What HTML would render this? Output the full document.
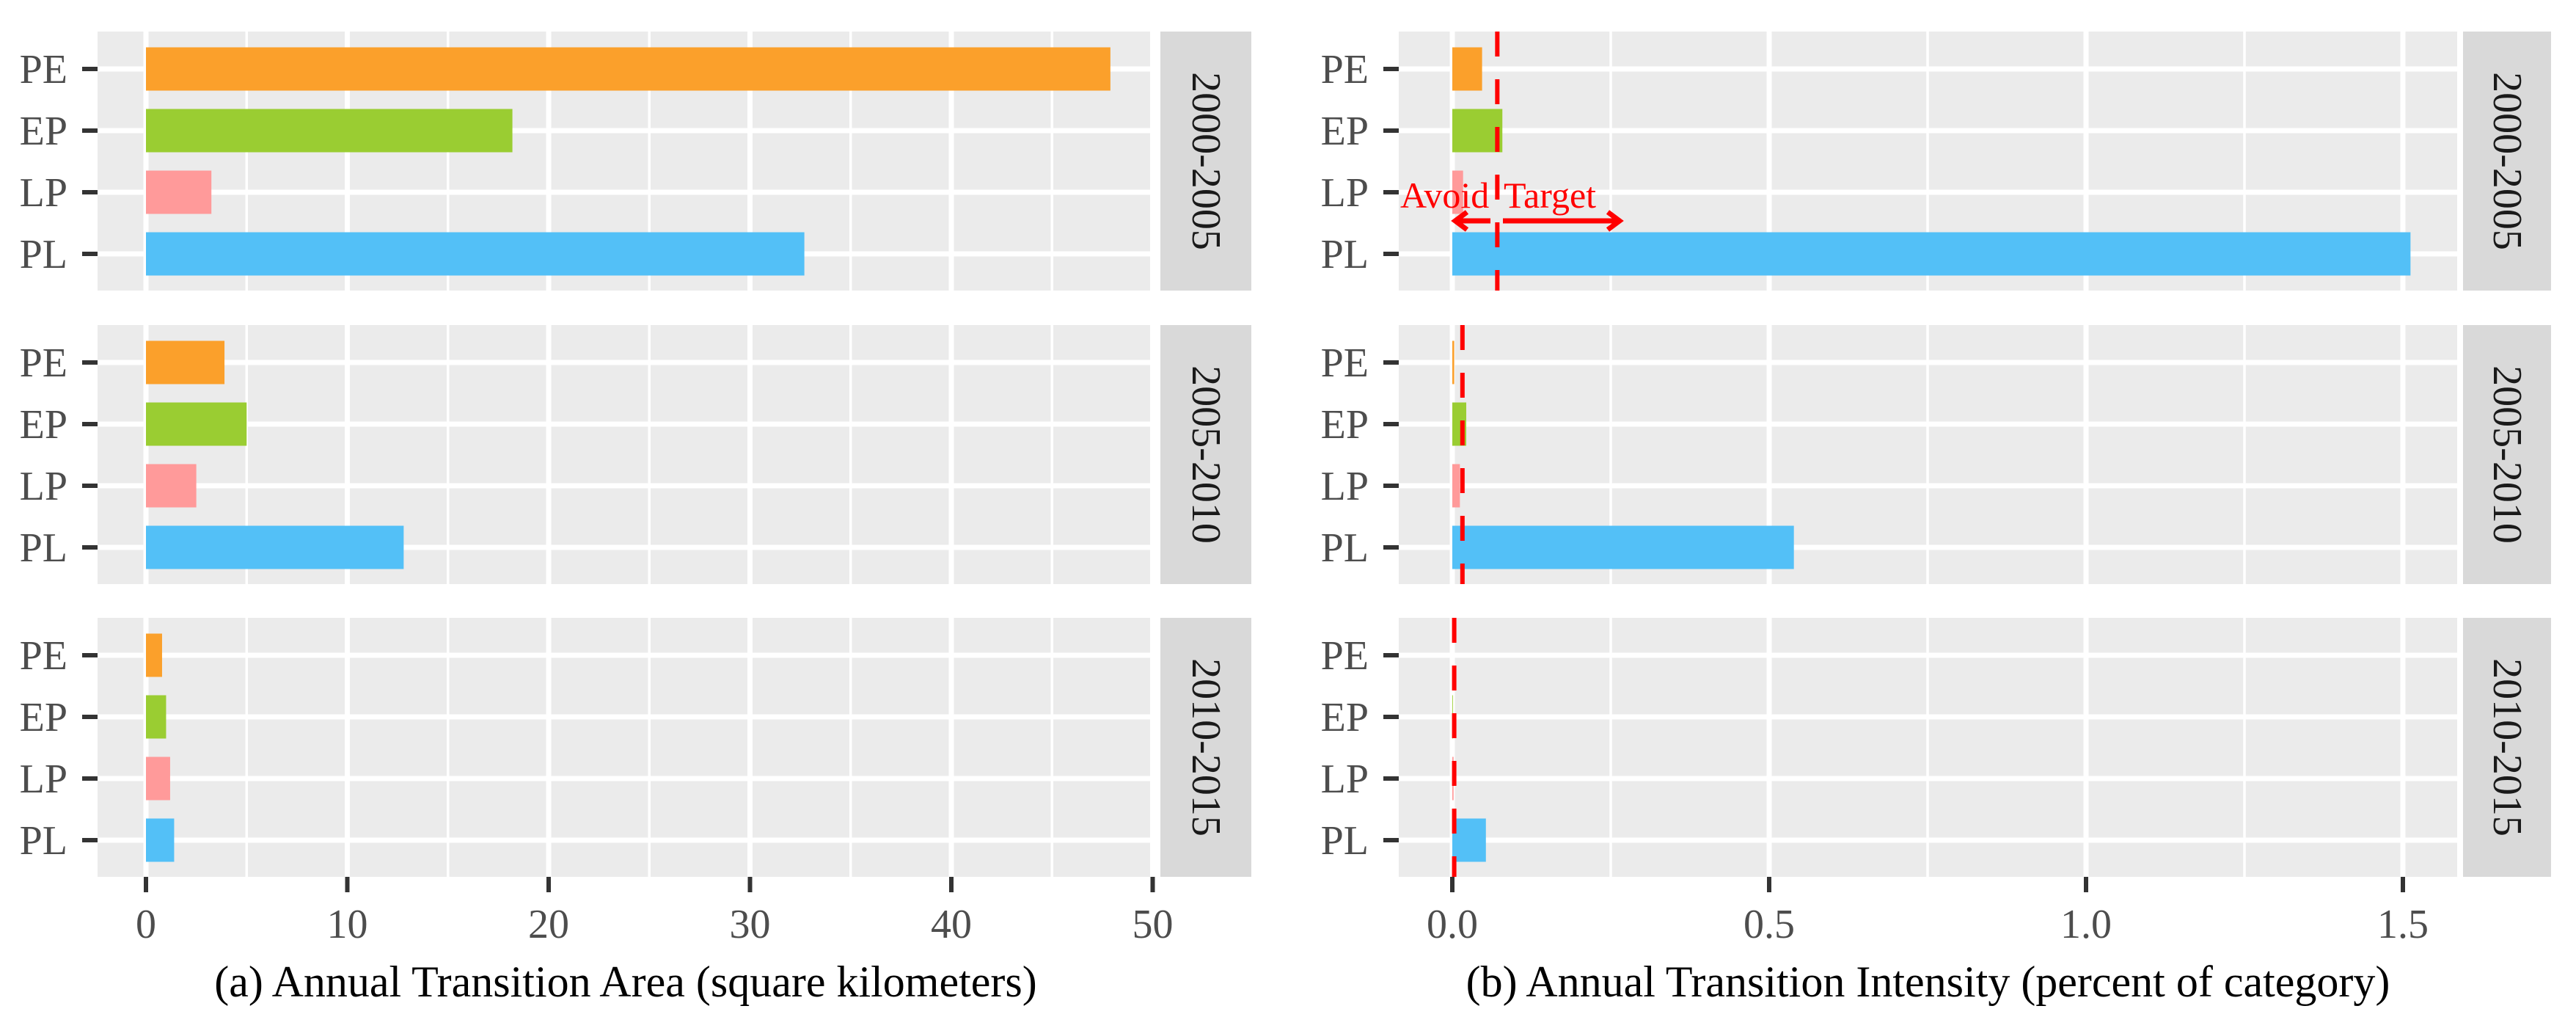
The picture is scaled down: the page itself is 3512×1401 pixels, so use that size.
<!DOCTYPE html>
<html><head><meta charset="utf-8"><style>
html,body{margin:0;padding:0;background:#fff;}
svg{display:block;font-family:"Liberation Serif",serif;}
</style></head>
<body>
<svg id="chart" width="3512" height="1401" viewBox="0 0 3512 1401" xmlns="http://www.w3.org/2000/svg"></svg>
<script>
const categories = ["PE","EP","LP","PL"];
const periods = ["2000-2005","2005-2010","2010-2015"];
const colors = {PE:"#FBA02B",EP:"#9ACD32",LP:"#FF9A9A",PL:"#53C0F7"};
// panel (a): annual transition area, km^2
const areaP1 = [47.9, 18.2, 3.25, 32.7];
const areaP2 = [3.9, 5.0, 2.5, 12.8];
const areaP3 = [0.8, 1.0, 1.2, 1.4];
// panel (b): annual transition intensity, percent
const intP1 = [0.047, 0.079, 0.017, 1.512];
const intP2 = [0.003, 0.022, 0.012, 0.539];
const intP3 = [0.0, 0.001, 0.002, 0.053];
const uniformIntensity = [0.071, 0.016, 0.003];
const areaTicks = [0, 10, 20, 30, 40, 50];
const areaMinor = [5, 15, 25, 35, 45];
const intTicks = [0, 0.5, 1.0, 1.5];
const intTickLabels = ["0.0","0.5","1.0","1.5"];
const intMinor = [0.25, 0.75, 1.25];

const svg = document.getElementById('chart');
const NS = "http://www.w3.org/2000/svg";
function mk(tag, attrs, parent){const e=document.createElementNS(NS,tag);for(const k in attrs)e.setAttribute(k,attrs[k]);(parent||svg).appendChild(e);return e;}

const panelTops = [43, 443, 842];
const panelH = 353;
const catStep = 84, barH = 59;

const sides = [
  {name:"area", left:133, right:1573, x0:199, k:27.45, stripL:1582, stripR:1706,
   data:[areaP1,areaP2,areaP3], ticks:areaTicks, tickLabels:areaTicks.map(String), minor:areaMinor,
   labelX:92, title:"(a) Annual Transition Area (square kilometers)"},
  {name:"intensity", left:1907, right:3350, x0:1980, k:864, stripL:3358, stripR:3478,
   data:[intP1,intP2,intP3], ticks:intTicks, tickLabels:intTickLabels, minor:intMinor,
   labelX:1866, title:"(b) Annual Transition Intensity (percent of category)"}
];

sides.forEach((s, si) => {
  const xs = v => s.x0 + v*s.k;
  periods.forEach((per, pi) => {
    const top = panelTops[pi];
    const g = mk('g', {});
    
    
    const bg = mk('rect', {x:s.left, y:top, width:s.right-s.left, height:panelH, fill:"#EBEBEB"}, g);
    
    
    s.minor.forEach(v => {
      const l = mk('line', {x1:xs(v), x2:xs(v), y1:top, y2:top+panelH, stroke:"#fff", 'stroke-width':3.5}, g);
      
      
    });
    s.ticks.forEach(v => {
      if (xs(v) > s.right) return;
      const l = mk('line', {x1:xs(v), x2:xs(v), y1:top, y2:top+panelH, stroke:"#fff", 'stroke-width':7}, g);
      
      
    });
    categories.forEach((c, ci) => {
      const yc = top + 51 + ci*catStep;
      const l = mk('line', {x1:s.left, x2:s.right, y1:yc, y2:yc, stroke:"#fff", 'stroke-width':7}, g);
      
      
      const v = s.data[pi][ci];
      const b = mk('rect', {x:xs(0), y:yc-barH/2, width:Math.max(0, xs(v)-xs(0)), height:barH, fill:colors[c]}, g);
      
      
      const tk = mk('line', {x1:s.left-21, x2:s.left, y1:yc, y2:yc, stroke:"#333", 'stroke-width':6}, g);
      
      
      const t = mk('text', {x:s.labelX, y:yc+19, 'text-anchor':'end', 'font-size':56, fill:"#4D4D4D"}, g);
      t.textContent = c;
      
      
    });
    if (si === 1) {
      const ux = xs(uniformIntensity[pi]);
      const d = mk('line', {x1:ux, x2:ux, y1:top, y2:top+panelH, stroke:"#FF0000", 'stroke-width':6, 'stroke-dasharray':'34 31'}, g);
      
      
    }
    const st = mk('rect', {x:s.stripL, y:top, width:s.stripR-s.stripL, height:panelH, fill:"#D9D9D9"}, g);
    
    
    const cx = (s.stripL+s.stripR)/2, cy = top+panelH/2;
    const stt = mk('text', {x:cx, y:cy, 'text-anchor':'middle', 'dominant-baseline':'central', 'font-size':56, fill:"#1A1A1A", transform:`rotate(90 ${cx} ${cy})`}, g);
    stt.textContent = per;
    
    
  });
  const axBottom = panelTops[2] + panelH;
  s.ticks.forEach((v, ti) => {
    const tk = mk('line', {x1:xs(v), x2:xs(v), y1:axBottom, y2:axBottom+21, stroke:"#333", 'stroke-width':6});
    
    
    const t = mk('text', {x:xs(v), y:1278, 'text-anchor':'middle', 'font-size':56, fill:"#4D4D4D"});
    t.textContent = s.tickLabels[ti];
    
    
  });
  const tt = mk('text', {x:(s.left+s.right)/2, y:1358, 'text-anchor':'middle', 'font-size':60, fill:"#000"});
  tt.textContent = s.title;
  
  
});

// annotation in panel (b) 2000-2005
const ann = mk('g', {});


const a1 = mk('text', {x:1909, y:283, 'font-size':50, fill:"#FF0000"}, ann);
a1.textContent = "Avoid";


const a2 = mk('text', {x:2050, y:283, 'font-size':50, fill:"#FF0000"}, ann);
a2.textContent = "Target";


const arL = mk('path', {d:"M2032 301 L1986 301 M2000 289 L1984 301 L2000 313", stroke:"#FF0000", 'stroke-width':7, fill:"none"}, ann);


const arR = mk('path', {d:"M2049 301 L2206 301 M2192 289 L2208 301 L2192 313", stroke:"#FF0000", 'stroke-width':7, fill:"none"}, ann);


</script>
</body></html>
